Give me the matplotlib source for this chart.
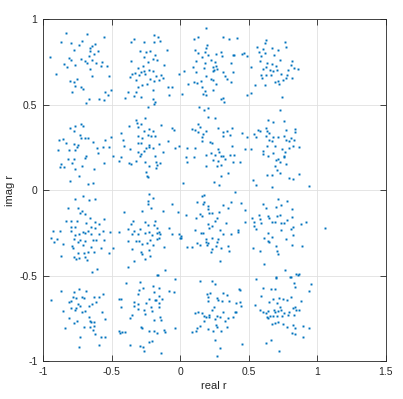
import matplotlib
matplotlib.use("Agg")
import matplotlib.pyplot as plt

# received symbols (top row first)
row1_re = [-0.832, -0.679, -0.557, -0.868, -0.796, -0.715, -0.740, -0.623, -0.642, -0.660,
           -0.774, -0.655, -0.599, -0.625, -0.951, -0.813, -0.667, -0.796, -0.720, -0.691,
           -0.642, -0.679, -0.570, -0.844, -0.764, -0.613, -0.825, -0.574, -0.533, -0.660,
           -0.902, -0.642, -0.516, -0.800, -0.752, -0.776, -0.764, -0.723, -0.708, -0.504,
           -0.788, -0.545, -0.526, -0.667, -0.594, -0.557, -0.686,
           -0.193, -0.161, -0.339, -0.358, -0.266, -0.193, -0.149, -0.093, -0.290, -0.249,
           -0.217, -0.181, -0.266, -0.358, -0.200, -0.169, -0.237, -0.120, -0.271, -0.307,
           -0.266, -0.229, -0.200, -0.288, -0.351, -0.327, -0.137, -0.368, -0.302, -0.254,
           -0.174, -0.217, -0.319, -0.157, -0.188, -0.125, -0.278, -0.242, -0.006, -0.310,
           -0.198, -0.088, -0.059, -0.380, -0.319, -0.079, -0.339, -0.285, -0.399, -0.200,
           -0.181, -0.193,
           0.190, 0.129, 0.102, 0.311, 0.357, 0.418, 0.194, 0.190, 0.109, 0.182,
           0.134, 0.262, 0.296, 0.207, 0.309, 0.384, 0.396, 0.450, 0.467, 0.486,
           0.158, 0.224, 0.114, 0.255, 0.182, 0.372, 0.262, 0.243, 0.092, 0.175,
           0.250, 0.272, 0.238, 0.316, 0.032, 0.117, 0.389, 0.328, 0.190, 0.340,
           0.226, 0.238, 0.102, 0.151, 0.126, 0.056, 0.372, 0.262, 0.163, 0.243,
           0.182, 0.017, 0.165, 0.190, 0.311, 0.299, 0.323, 0.486, 0.515,
           0.627, 0.620, 0.765, 0.603, 0.559, 0.668, 0.578, 0.712, 0.773, 0.620,
           0.685, 0.588, 0.729, 0.819, 0.637, 0.583, 0.668, 0.809, 0.627, 0.700,
           0.518, 0.656, 0.603, 0.833, 0.863, 0.790, 0.680, 0.705, 0.734, 0.590,
           0.627, 0.663, 0.782, 0.595, 0.773, 0.748, 0.712, 0.693, 0.819, 0.724,
           0.547, 0.620, 0.741]
row1_im = [0.920, 0.914, 0.895, 0.866, 0.860, 0.873, 0.850, 0.854, 0.842, 0.830,
           0.817, 0.811, 0.815, 0.795, 0.778, 0.772, 0.782, 0.760, 0.764, 0.752,
           0.762, 0.743, 0.749, 0.739, 0.733, 0.743, 0.717, 0.723, 0.727, 0.708,
           0.680, 0.669, 0.665, 0.639, 0.651, 0.632, 0.608, 0.604, 0.591, 0.587,
           0.573, 0.573, 0.554, 0.534, 0.532, 0.524, 0.509,
           0.908, 0.895, 0.883, 0.864, 0.866, 0.866, 0.870, 0.821, 0.811, 0.805,
           0.811, 0.791, 0.776, 0.756, 0.768, 0.762, 0.747, 0.733, 0.727, 0.713,
           0.698, 0.704, 0.694, 0.688, 0.678, 0.682, 0.674, 0.661, 0.671, 0.678,
           0.665, 0.651, 0.645, 0.645, 0.636, 0.655, 0.616, 0.620, 0.680, 0.600,
           0.587, 0.600, 0.602, 0.573, 0.573, 0.557, 0.548, 0.542, 0.538, 0.534,
           0.515, 0.505,
           0.948, 0.895, 0.883, 0.895, 0.881, 0.889, 0.850, 0.830, 0.817, 0.805,
           0.801, 0.797, 0.805, 0.791, 0.782, 0.788, 0.791, 0.797, 0.803, 0.782,
           0.776, 0.760, 0.752, 0.747, 0.743, 0.743, 0.723, 0.717, 0.719, 0.713,
           0.704, 0.710, 0.694, 0.690, 0.698, 0.690, 0.688, 0.669, 0.669, 0.649,
           0.651, 0.641, 0.632, 0.636, 0.624, 0.620, 0.630, 0.622, 0.604, 0.585,
           0.581, 0.563, 0.561, 0.554, 0.538, 0.534, 0.515, 0.554, 0.567,
           0.877, 0.860, 0.864, 0.825, 0.834, 0.830, 0.807, 0.821, 0.834, 0.801,
           0.791, 0.786, 0.762, 0.756, 0.743, 0.752, 0.739, 0.733, 0.719, 0.723,
           0.717, 0.704, 0.708, 0.713, 0.708, 0.704, 0.694, 0.700, 0.678, 0.674,
           0.671, 0.674, 0.674, 0.655, 0.655, 0.641, 0.639, 0.632, 0.655, 0.622,
           0.612, 0.616, 0.544]

row2_re = [-0.720, -0.711, -0.800, -0.769, -0.732, -0.771, -0.696, -0.672, -0.720, -0.886,
           -0.856, -0.830, -0.550, -0.504, -0.638, -0.771, -0.745, -0.752, -0.764, -0.813,
           -0.890, -0.565, -0.606, -0.516, -0.684, -0.691, -0.601, -0.820, -0.776, -0.866,
           -0.788, -0.557, -0.715, -0.873, -0.844, -0.769, -0.630, -0.735, -0.800, -0.672,
           -0.635,
           -0.234, -0.259, -0.319, -0.314, -0.283, -0.137, -0.375, -0.307, -0.229, -0.059,
           -0.042, -0.431, -0.266, -0.198, -0.307, -0.234, -0.210, -0.181, -0.419, -0.278,
           -0.088, -0.307, -0.283, -0.229, -0.157, -0.011, -0.035, -0.412, -0.368, -0.249,
           -0.225, -0.198, -0.266, -0.307, -0.125, -0.283, -0.295, -0.181, -0.492, -0.429,
           -0.443, -0.319, -0.259, -0.370, -0.356, -0.225, -0.174, -0.144, -0.169, -0.174,
           -0.246, -0.242, -0.234,
           0.141, 0.207, 0.177, 0.202, 0.255, 0.129, 0.146, 0.090, 0.109, 0.190,
           0.275, 0.382, 0.134, 0.165, 0.316, 0.340, 0.158, 0.365, 0.311, 0.450,
           0.486, 0.219, 0.236, 0.158, 0.049, 0.109, 0.275, 0.474, 0.515, 0.377,
           0.226, 0.255, 0.287, 0.316, 0.299, 0.190, 0.365, 0.396, 0.041, 0.104,
           0.243, 0.279, 0.328, 0.384, 0.437, 0.053, 0.296, 0.187, 0.272, 0.352,
           0.296, 0.019, 0.248, 0.287,
           0.729, 0.644, 0.676, 0.758, 0.571, 0.583, 0.627, 0.632, 0.651, 0.773,
           0.838, 0.838, 0.625, 0.680, 0.717, 0.758, 0.807, 0.831, 0.651, 0.668,
           0.773, 0.797, 0.554, 0.539, 0.632, 0.693, 0.821, 0.868, 0.741, 0.765,
           0.797, 0.603, 0.603, 0.676, 0.644, 0.712, 0.758, 0.761, 0.700, 0.729,
           0.773, 0.693, 0.710, 0.729, 0.637, 0.668, 0.535, 0.552, 0.797, 0.821,
           0.868, 0.668, 0.940]
row2_im = [0.386, 0.376, 0.363, 0.372, 0.324, 0.343, 0.302, 0.302, 0.302, 0.292,
           0.298, 0.273, 0.294, 0.308, 0.283, 0.269, 0.263, 0.250, 0.236, 0.236,
           0.236, 0.250, 0.246, 0.250, 0.197, 0.187, 0.216, 0.181, 0.181, 0.152,
           0.158, 0.158, 0.142, 0.133, 0.136, 0.123, 0.123, 0.084, 0.051, 0.035,
           0.039,
           0.487, 0.421, 0.411, 0.392, 0.386, 0.382, 0.372, 0.370, 0.357, 0.361,
           0.353, 0.333, 0.343, 0.347, 0.318, 0.324, 0.314, 0.314, 0.292, 0.302,
           0.288, 0.275, 0.273, 0.265, 0.269, 0.259, 0.246, 0.255, 0.240, 0.244,
           0.250, 0.244, 0.230, 0.224, 0.220, 0.211, 0.201, 0.201, 0.197, 0.195,
           0.172, 0.172, 0.162, 0.156, 0.152, 0.142, 0.162, 0.158, 0.146, 0.127,
           0.107, 0.080, 0.074,
           0.487, 0.480, 0.468, 0.429, 0.421, 0.386, 0.370, 0.357, 0.353, 0.347,
           0.361, 0.363, 0.337, 0.327, 0.337, 0.343, 0.308, 0.324, 0.314, 0.333,
           0.308, 0.283, 0.275, 0.285, 0.244, 0.244, 0.240, 0.238, 0.238, 0.255,
           0.216, 0.207, 0.220, 0.201, 0.197, 0.205, 0.207, 0.205, 0.191, 0.191,
           0.175, 0.172, 0.181, 0.162, 0.166, 0.162, 0.146, 0.142, 0.138, 0.099,
           0.080, 0.041, 0.049, 0.031,
           0.470, 0.411, 0.396, 0.406, 0.353, 0.343, 0.361, 0.347, 0.333, 0.351,
           0.357, 0.337, 0.314, 0.308, 0.308, 0.314, 0.302, 0.294, 0.294, 0.285,
           0.294, 0.288, 0.308, 0.327, 0.259, 0.255, 0.259, 0.250, 0.240, 0.224,
           0.246, 0.226, 0.211, 0.216, 0.197, 0.181, 0.201, 0.191, 0.175, 0.162,
           0.152, 0.138, 0.119, 0.099, 0.090, 0.090, 0.058, 0.031, 0.068, 0.064,
           0.093, 0.019, 0.025]

row3_re = [-0.708, -0.764, -0.662, -0.623, -0.820, -0.745, -0.715, -0.732, -0.691, -0.655,
           -0.832, -0.793, -0.752, -0.684, -0.618, -0.594, -0.557, -0.796, -0.769, -0.647,
           -0.618, -0.927, -0.878, -0.793, -0.711, -0.696, -0.672, -0.562, -0.509, -0.740,
           -0.769, -0.650, -0.594, -0.941, -0.898, -0.776, -0.728, -0.747, -0.691, -0.638,
           -0.613, -0.557, -0.922, -0.856, -0.788, -0.711, -0.783, -0.647, -0.574, -0.747,
           -0.703, -0.672, -0.630, -0.521, -0.868, -0.776, -0.757, -0.735, -0.696, -0.679,
           -0.606, -0.642, -0.489,
           -0.225, -0.200, -0.234, -0.234, -0.210, -0.059, -0.412, -0.278, -0.125, -0.016,
           -0.346, -0.356, -0.259, -0.181, -0.234, -0.193, -0.169, -0.157, -0.084, -0.295,
           -0.380, -0.339, -0.448, -0.351, -0.307, -0.229, -0.259, -0.205, -0.169, -0.144,
           -0.059, -0.006, 0.001, -0.157, -0.169, -0.380, -0.319, -0.297, -0.222, -0.242,
           -0.278, -0.200, -0.120, -0.351, -0.285, -0.229, -0.278, -0.217, -0.254, -0.334,
           -0.380, -0.113, -0.169,
           0.401, 0.175, 0.158, 0.126, 0.175, 0.165, 0.207, 0.372, 0.445, 0.316,
           0.352, 0.202, 0.236, 0.214, 0.284, 0.474, 0.146, 0.158, 0.044, 0.114,
           0.267, 0.255, 0.333, 0.474, 0.202, 0.236, 0.214, 0.292, 0.109, 0.151,
           0.170, 0.420, 0.425, 0.369, 0.316, 0.007, 0.007, 0.190, 0.231, 0.279,
           0.272, 0.190, 0.207, 0.122, 0.146, 0.199, 0.260, 0.347, 0.049, 0.085,
           0.231, 0.299, 0.224, 0.360, 0.292,
           0.712, 0.778, 0.603, 0.736, 0.700, 0.625, 0.814, 0.578, 0.644, 0.729,
           0.710, 0.651, 0.814, 0.527, 0.583, 0.778, 0.539, 0.590, 0.673, 0.693,
           0.736, 0.758, 0.919, 0.882, 0.826, 0.809, 0.539, 0.554, 0.736, 0.639,
           0.668, 0.612, 0.644, 0.651, 0.821, 0.773, 0.700, 0.814, 0.887, 0.535,
           0.583, 0.705, 0.712, 0.612, 0.765, 0.843, 0.868, 0.700, 0.802, 1.057]
row3_im = [-0.035, -0.053, -0.059, -0.055, -0.107, -0.107, -0.121, -0.133, -0.140, -0.162,
           -0.181, -0.179, -0.181, -0.191, -0.189, -0.199, -0.170, -0.215, -0.215, -0.215,
           -0.220, -0.238, -0.240, -0.240, -0.244, -0.250, -0.238, -0.240, -0.244, -0.259,
           -0.263, -0.259, -0.259, -0.283, -0.287, -0.287, -0.293, -0.302, -0.296, -0.293,
           -0.293, -0.293, -0.302, -0.316, -0.328, -0.322, -0.341, -0.332, -0.341, -0.367,
           -0.367, -0.365, -0.361, -0.371, -0.384, -0.390, -0.404, -0.396, -0.390, -0.410,
           -0.462, -0.478, -0.337,
           -0.023, -0.045, -0.062, -0.082, -0.103, -0.084, -0.127, -0.121, -0.121, -0.127,
           -0.181, -0.199, -0.185, -0.181, -0.205, -0.205, -0.224, -0.244, -0.220, -0.228,
           -0.228, -0.238, -0.248, -0.259, -0.259, -0.244, -0.254, -0.263, -0.254, -0.259,
           -0.259, -0.259, -0.279, -0.279, -0.289, -0.296, -0.296, -0.296, -0.293, -0.308,
           -0.318, -0.322, -0.332, -0.347, -0.361, -0.351, -0.376, -0.384, -0.406, -0.413,
           -0.452, -0.468, -0.497,
           -0.014, -0.029, -0.035, -0.068, -0.068, -0.084, -0.094, -0.072, -0.074, -0.088,
           -0.107, -0.111, -0.133, -0.137, -0.127, -0.117, -0.140, -0.152, -0.146, -0.162,
           -0.162, -0.181, -0.191, -0.189, -0.201, -0.211, -0.224, -0.234, -0.234, -0.250,
           -0.254, -0.234, -0.244, -0.259, -0.259, -0.269, -0.283, -0.289, -0.283, -0.289,
           -0.302, -0.302, -0.312, -0.312, -0.322, -0.322, -0.328, -0.328, -0.335, -0.335,
           -0.347, -0.341, -0.361, -0.355, -0.415,
           -0.053, -0.062, -0.084, -0.088, -0.101, -0.103, -0.113, -0.146, -0.150, -0.146,
           -0.152, -0.162, -0.156, -0.166, -0.172, -0.176, -0.185, -0.191, -0.185, -0.185,
           -0.191, -0.195, -0.185, -0.199, -0.215, -0.228, -0.209, -0.228, -0.234, -0.254,
           -0.273, -0.283, -0.296, -0.302, -0.263, -0.287, -0.326, -0.322, -0.328, -0.341,
           -0.357, -0.357, -0.374, -0.435, -0.468, -0.491, -0.493, -0.511, -0.511, -0.220]

row4_re = [-0.740, -0.771, -0.684, -0.941, -0.866, -0.781, -0.715, -0.698, -0.630, -0.594,
           -0.562, -0.813, -0.759, -0.793, -0.745, -0.728, -0.667, -0.642, -0.613, -0.796,
           -0.769, -0.757, -0.856, -0.715, -0.696, -0.570, -0.667, -0.813, -0.752, -0.550,
           -0.771, -0.655, -0.647, -0.630, -0.703, -0.660, -0.630, -0.842, -0.638, -0.618,
           -0.574, -0.550, -0.732, -0.589, -0.735,
           -0.161, -0.295, -0.392, -0.271, -0.198, -0.152, -0.040, -0.084, -0.042, -0.302,
           -0.310, -0.193, -0.157, -0.448, -0.431, -0.225, -0.181, -0.132, -0.174, -0.334,
           -0.307, -0.249, -0.157, -0.431, -0.339, -0.210, -0.152, -0.307, -0.266, -0.205,
           -0.259, -0.351, -0.363, -0.144, -0.137, -0.193, -0.283, -0.278, -0.225, -0.193,
           -0.169, -0.120, -0.108, -0.040, -0.448, -0.441, -0.424, -0.399, -0.205, -0.225,
           -0.363, -0.290, -0.271, -0.266, -0.139,
           0.146, 0.231, 0.255, 0.219, 0.194, 0.316, 0.340, 0.433, 0.437, 0.272,
           0.279, 0.202, 0.207, 0.309, 0.360, 0.406, 0.437, 0.442, 0.248, 0.231,
           0.401, 0.408, 0.134, 0.109, 0.158, 0.175, 0.190, 0.211, 0.214, 0.267,
           0.316, 0.292, 0.352, 0.384, 0.255, 0.328, 0.175, 0.146, 0.262, 0.272,
           0.345, 0.126, 0.114, 0.085, 0.202, 0.238, 0.299, 0.255, 0.450, 0.292,
           0.267,
           0.700, 0.809, 0.863, 0.554, 0.831, 0.838, 0.608, 0.661, 0.693, 0.943,
           0.953, 0.588, 0.676, 0.724, 0.753, 0.782, 0.807, 0.882, 0.547, 0.651,
           0.705, 0.729, 0.583, 0.608, 0.627, 0.644, 0.685, 0.693, 0.717, 0.734,
           0.761, 0.797, 0.826, 0.838, 0.846, 0.870, 0.637, 0.656, 0.676, 0.710,
           0.741, 0.790, 0.831, 0.644, 0.668, 0.693, 0.712, 0.753, 0.778, 0.821,
           0.899, 0.838, 0.943, 0.814, 0.838, 0.894, 0.661, 0.627, 0.722]
row4_im = [-0.579, -0.594, -0.589, -0.641, -0.589, -0.628, -0.624, -0.631, -0.628, -0.628,
           -0.608, -0.653, -0.631, -0.647, -0.667, -0.676, -0.680, -0.667, -0.653, -0.690,
           -0.702, -0.692, -0.706, -0.715, -0.709, -0.715, -0.745, -0.750, -0.764, -0.754,
           -0.778, -0.764, -0.774, -0.770, -0.799, -0.799, -0.793, -0.809, -0.819, -0.842,
           -0.858, -0.858, -0.862, -0.906, -0.916,
           -0.497, -0.536, -0.544, -0.573, -0.563, -0.573, -0.520, -0.592, -0.594, -0.583,
           -0.608, -0.598, -0.618, -0.637, -0.637, -0.637, -0.641, -0.637, -0.643, -0.657,
           -0.667, -0.661, -0.663, -0.682, -0.680, -0.682, -0.686, -0.696, -0.702, -0.709,
           -0.725, -0.729, -0.748, -0.745, -0.758, -0.758, -0.799, -0.809, -0.823, -0.826,
           -0.836, -0.819, -0.832, -0.807, -0.823, -0.838, -0.832, -0.832, -0.881, -0.891,
           -0.906, -0.910, -0.916, -0.943, -0.951,
           -0.534, -0.530, -0.550, -0.602, -0.608, -0.602, -0.612, -0.579, -0.585, -0.631,
           -0.643, -0.628, -0.647, -0.647, -0.647, -0.661, -0.653, -0.676, -0.686, -0.702,
           -0.711, -0.715, -0.715, -0.721, -0.721, -0.735, -0.741, -0.729, -0.745, -0.735,
           -0.715, -0.745, -0.750, -0.741, -0.754, -0.764, -0.764, -0.793, -0.789, -0.799,
           -0.799, -0.809, -0.823, -0.828, -0.813, -0.826, -0.823, -0.877, -0.901, -0.926,
           -0.973,
           -0.514, -0.507, -0.495, -0.520, -0.544, -0.569, -0.575, -0.579, -0.579, -0.592,
           -0.550, -0.618, -0.637, -0.631, -0.637, -0.641, -0.624, -0.647, -0.670, -0.657,
           -0.663, -0.682, -0.700, -0.715, -0.719, -0.706, -0.702, -0.715, -0.709, -0.700,
           -0.719, -0.711, -0.692, -0.682, -0.702, -0.700, -0.741, -0.735, -0.735, -0.739,
           -0.735, -0.729, -0.729, -0.748, -0.784, -0.780, -0.774, -0.784, -0.799, -0.787,
           -0.793, -0.809, -0.809, -0.838, -0.842, -0.858, -0.877, -0.897, -0.940]

x_ticks = [-1, -0.5, 0, 0.5, 1, 1.5]
y_ticks = [-1, -0.5, 0, 0.5, 1]

plt.rcParams['font.family'] = ['Liberation Sans', 'DejaVu Sans']
fig = plt.figure(figsize=(4.03, 3.99), dpi=100)
ax = fig.add_axes([0.1067, 0.0952, 0.85, 0.857])

for re, im in [(row1_re, row1_im), (row2_re, row2_im), (row3_re, row3_im), (row4_re, row4_im)]:
    ax.plot(re, im, 's', color='#0072bd', markersize=1.4, markeredgewidth=0)

ax.set_xlim(-1, 1.5)
ax.set_ylim(-1, 1)
ax.set_xticks(x_ticks)
ax.set_xticklabels(['-1', '-0.5', '0', '0.5', '1', '1.5'])
ax.set_yticks(y_ticks)
ax.set_yticklabels(['-1', '-0.5', '0', '0.5', '1'])
ax.grid(True, color='#e0e0e0', linewidth=0.6)
ax.set_axisbelow(True)
ax.tick_params(direction='in', length=4, width=0.6, top=True, right=True,
               labelsize=7.5, colors='#262626', pad=4)
for s in ax.spines.values():
    s.set_color('#262626')
    s.set_linewidth(0.6)

ax.set_xlabel('real r', fontsize=8, color='#262626', labelpad=3)
ax.set_ylabel('imag r', fontsize=8, color='#262626', labelpad=3)

fig.savefig('out.png', dpi=100)
